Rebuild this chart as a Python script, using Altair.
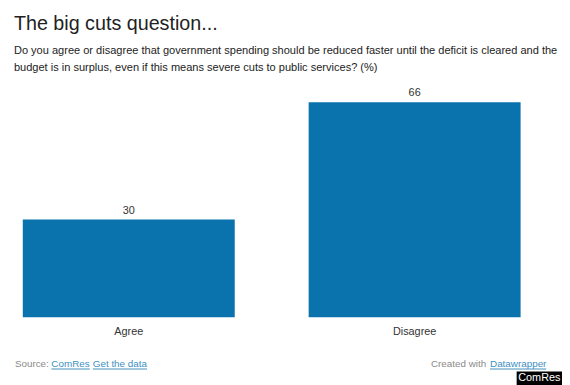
import altair as alt
import pandas as pd

categories = ["Agree", "Disagree"]
values = [30, 66]

title = "The big cuts question..."
subtitle_lines = [
    "Do you agree or disagree that government spending should be reduced faster until the deficit is cleared and the",
    "budget is in surplus, even if this means severe cuts to public services? (%)",
]
footer_source = "Source:"
footer_link1 = "ComRes"
footer_link2 = "Get the data"
footer_created = "Created with"
footer_dw = "Datawrapper"
badge = "ComRes"

FONT = "Liberation Sans"
BAR = "#0a72ad"

df = pd.DataFrame({"cat": categories, "val": values})

W, H = 505, 218

base = alt.Chart(df).encode(
    x=alt.X("cat:N", sort=categories,
            scale=alt.Scale(paddingInner=0.2586, paddingOuter=0),
            axis=alt.Axis(title=None, ticks=False, domain=False, labelAngle=0,
                          labelFont=FONT, labelFontSize=11, labelColor="#333",
                          labelPadding=8)),
    y=alt.Y("val:Q", scale=alt.Scale(domain=[0, 66], nice=False), axis=None),
)
bars = base.mark_bar(color=BAR)
labels = base.mark_text(font=FONT, fontSize=11, color="#333", baseline="alphabetic", dy=-6).encode(
    text="val:Q")

one = pd.DataFrame({"a": [0]})


def txt(t, x, y, size, color, align="left"):
    return alt.Chart(one).mark_text(
        text=t, font=FONT, fontSize=size, color=color, align=align,
        baseline="alphabetic",
    ).encode(x=alt.value(x), y=alt.value(y))


def line(x1, x2, y, color):
    return alt.Chart(one).mark_rule(color=color, strokeWidth=1).encode(
        x=alt.value(x1), x2=alt.value(x2), y=alt.value(y))


LINK = "#3d8fbf"
GREY = "#8a8a8a"

ann = [
    txt(title, -9, -73, 20, "#222"),
    txt(subtitle_lines[0], -9, -49, 11.2, "#222"),
    txt(subtitle_lines[1], -9, -32, 11.2, "#222"),
    txt(footer_source, -8, 268, 10, GREY),
    txt(footer_link1, 29, 268, 10, LINK),
    line(29, 68, 270.5, LINK),
    txt(footer_link2, 71, 268, 10, LINK),
    line(71, 126, 270.5, LINK),
    txt(footer_created, 414, 268, 10, GREY),
    txt(footer_dw, 474, 268, 10, LINK),
    line(474, 531, 270.5, LINK),
    alt.Chart(one).mark_rect(color="black").encode(
        x=alt.value(501), x2=alt.value(547), y=alt.value(273), y2=alt.value(290)),
    txt(badge, 524, 282.5, 11, "white", align="center"),
]

chart = alt.layer(bars, labels, *ann).properties(
    width=W, height=H,
    autosize=alt.AutoSizeParams(type="none"),
    padding={"left": 15, "top": 93, "right": 42, "bottom": 66},
    background="white",
).configure_view(stroke=None)

chart.save("out.html", embed_options={"renderer": "svg", "actions": False})
